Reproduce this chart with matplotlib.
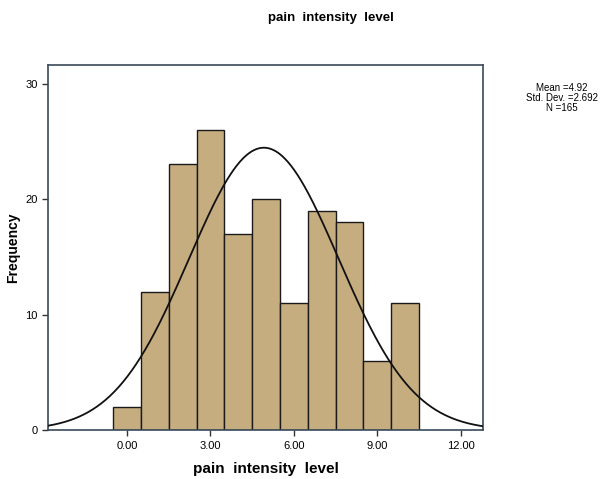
import numpy as np
import matplotlib
matplotlib.use("Agg")
import matplotlib.pyplot as plt

# # DATA

bin_centers = [0, 1, 2, 3, 4, 5, 6, 7, 8, 9, 10]
frequencies = [2, 12, 23, 26, 17, 20, 11, 19, 18, 6, 11]
mean_val = 4.92
std_val = 2.692
n_val = 165
x_ticks = [0, 3, 6, 9, 12]
x_tick_labels = ["0.00", "3.00", "6.00", "9.00", "12.00"]
y_ticks = [0, 10, 20, 30]

plt.rcParams['font.family'] = ['Liberation Sans', 'DejaVu Sans']

fig = plt.figure(figsize=(6, 4.79), dpi=100)
ax = fig.add_axes([0.08, 0.102, 0.725, 0.762])

# Histogram bars
ax.bar(bin_centers, frequencies, width=1.0, color="#C6AD80",
       edgecolor="#1a1a1a", linewidth=1.0, zorder=2)

# Normal curve
xs = np.linspace(-2.84, 12.8, 400)
ys = n_val * 1.0 / (std_val * np.sqrt(2 * np.pi)) * np.exp(-0.5 * ((xs - mean_val) / std_val) ** 2)
ax.plot(xs, ys, color="#111111", linewidth=1.3, zorder=3)

ax.set_xlim(-2.84, 12.8)
ax.set_ylim(0, 31.6)
ax.set_xticks(x_ticks)
ax.set_xticklabels(x_tick_labels, fontsize=8)
ax.set_yticks(y_ticks)
ax.set_yticklabels([str(v) for v in y_ticks], fontsize=8)
ax.tick_params(direction="out", length=4, width=1, color="#333333")

for s in ax.spines.values():
    s.set_color("#3a4a5a")
    s.set_linewidth(1.2)

ax.set_xlabel("pain  intensity  level", fontsize=11, fontweight="bold", labelpad=8)
ax.set_ylabel("Frequency", fontsize=10, fontweight="bold", labelpad=4)

fig.text(331 / 600, 1 - 18 / 479, "pain  intensity  level", ha="center", va="center",
         fontsize=9.5, fontweight="bold")

fig.text(562 / 600, 1 - 98 / 479,
         f"Mean ={mean_val}\nStd. Dev. ={std_val}\nN ={n_val}",
         ha="center", va="center", fontsize=7, linespacing=0.95)

plt.savefig("out.png", dpi=100)
plt.close()
